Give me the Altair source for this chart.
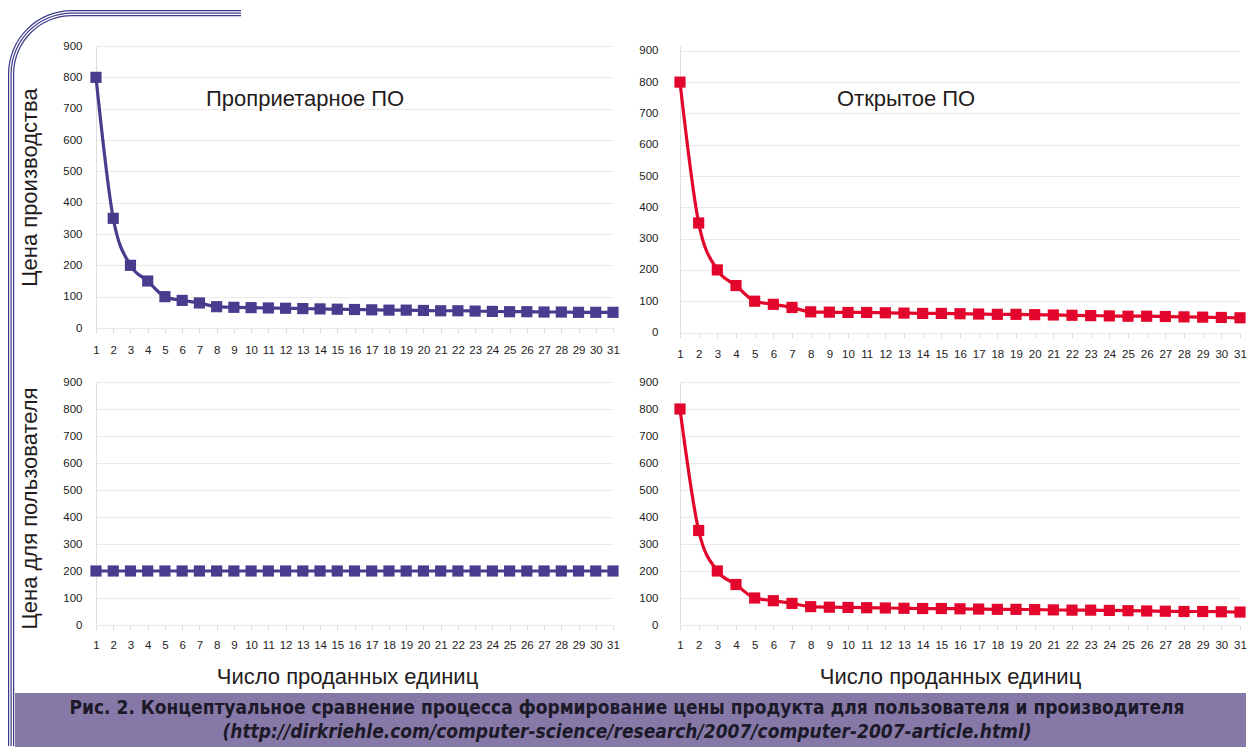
import altair as alt
import pandas as pd

# ---------------- data ----------------
units = list(range(1, 32))
prod_proprietary = [800, 350, 200, 150, 100, 88, 80, 68, 66, 65, 64, 63, 62, 61, 60, 59,
                    58, 57, 57, 56, 55, 55, 54, 53, 52, 52, 51, 51, 50, 50, 50]
prod_open = [800, 350, 200, 150, 100, 90, 80, 66, 65, 64, 64, 63, 62, 61, 61, 60,
             59, 58, 58, 57, 56, 55, 54, 53, 52, 52, 51, 50, 49, 48, 47]
user_proprietary = [200, 200, 200, 200, 200, 200, 200, 200, 200, 200, 200, 200, 200, 200, 200, 200,
                    200, 200, 200, 200, 200, 200, 200, 200, 200, 200, 200, 200, 200, 200, 200]
user_open = [800, 350, 200, 150, 100, 90, 80, 68, 66, 65, 64, 63, 62, 61, 61, 60,
             59, 58, 58, 57, 56, 55, 55, 54, 53, 52, 51, 50, 50, 49, 48]
y_ticks = [0, 100, 200, 300, 400, 500, 600, 700, 800, 900]

title_prop = "Проприетарное ПО"
title_open = "Открытое ПО"
ytitle_top = "Цена производства"
ytitle_bottom = "Цена для пользователя"
xtitle = "Число проданных единиц"
caption1 = "Рис. 2. Концептуальное сравнение процесса формирование цены продукта для пользователя и производителя"
caption2 = "(http://dirkriehle.com/computer-science/research/2007/computer-2007-article.html)"

NAVY = "#4b3b8f"
RED = "#e3062c"
FRAME = "#3b3a8c"
CAPBG = "#8679a7"
TEXT = "#241c1c"
FONT = "Liberation Sans"
CAPFONT = "Liberation Sans Narrow, DejaVu Sans Condensed, Roboto, sans-serif"

one = pd.DataFrame({"k": [0]})


def panel(values, color, ymax, ylab_pad, xlab_pad,
          ytitle=None, ytitle_y=None, xt=None, xtitle_x=None, xtitle_y=None):
    df = pd.DataFrame({"n": units, "v": values})
    xaxis_kw = dict(values=units, labelOverlap=False, labelFlush=False, grid=False,
                    ticks=True, tickColor="#e4dcdc", tickSize=5, domain=False,
                    labelFontSize=11.5, labelPadding=xlab_pad, labelColor=TEXT, labelFont=FONT)
    if xt:
        xaxis_kw.update(title=xt, titleFontSize=22, titleFont=FONT, titleFontWeight="normal",
                        titleColor=TEXT, titleX=xtitle_x, titleY=xtitle_y,
                        titleBaseline="middle", titleAlign="center")
    else:
        xaxis_kw.update(title=None)
    yaxis_kw = dict(values=y_ticks, grid=True, gridColor="#efe8e8", ticks=False,
                    domain=True, domainColor="#e4dcdc", labelFontSize=11.5,
                    labelPadding=ylab_pad, labelColor=TEXT, labelFont=FONT)
    if ytitle:
        yaxis_kw.update(title=ytitle, titleFontSize=22, titleFont=FONT, titleFontWeight="normal",
                        titleColor=TEXT, titleX=-55, titleY=ytitle_y, titleAngle=270,
                        titleBaseline="bottom", titleAlign="center")
    else:
        yaxis_kw.update(title=None)
    base = alt.Chart(df).encode(
        x=alt.X("n:Q", scale=alt.Scale(domain=[1, 31], nice=False, zero=False),
                axis=alt.Axis(**xaxis_kw)),
        y=alt.Y("v:Q", scale=alt.Scale(domain=[0, ymax], nice=False),
                axis=alt.Axis(**yaxis_kw)),
    )
    line = base.mark_line(color=color, strokeWidth=3.2, interpolate="monotone")
    pts = base.mark_square(color=color, size=125, opacity=1)
    return line, pts


def text_mark(t, px, py, size, align="left", weight="normal", style="normal", font=FONT, color=TEXT):
    return alt.Chart(pd.DataFrame({"t": [t]})).mark_text(
        align=align, baseline="middle", fontSize=size, font=font, fontWeight=weight,
        fontStyle=style, color=color
    ).encode(text="t:N", x=alt.value(px), y=alt.value(py))


# ---------------- frame (relative to top-left plot origin) ----------------
cx, cy = -24, 28
frame_layers = []
for r in [64, 61.5, 59]:
    frame_layers.append(
        alt.Chart(one).mark_arc(theta=4.712389, theta2=6.283185, innerRadius=r - 1.2,
                                outerRadius=r, color=FRAME)
        .encode(x=alt.value(cx), y=alt.value(cy))
    )
    frame_layers.append(
        alt.Chart(one).mark_rule(color=FRAME, strokeWidth=1.2)
        .encode(x=alt.value(cx), x2=alt.value(145), y=alt.value(cy - r + 0.6))
    )
    frame_layers.append(
        alt.Chart(one).mark_rule(color=FRAME, strokeWidth=1.2)
        .encode(x=alt.value(cx - r + 0.6), y=alt.value(cy), y2=alt.value(700))
    )

# ---------------- panels ----------------
TLW, TLH = 517, 282
TRW, TRH = 560, 286.5
BH = 243

l1, p1 = panel(prod_proprietary, NAVY, 900, 14, 11, ytitle=ytitle_top, ytitle_y=TLH / 2)
tl = alt.layer(*frame_layers, l1, p1,
               text_mark(title_prop, 110, 53, 22)).properties(width=TLW, height=TLH)

l2, p2 = panel(prod_open, RED, 900 * TRH / 281.7, 22, 11)
tr = alt.layer(l2, p2, text_mark(title_open, 157, 53, 22)).properties(width=TRW, height=TRH)

l3, p3 = panel(user_proprietary, NAVY, 900, 14, 9,
               ytitle=ytitle_bottom, ytitle_y=126, xt=xtitle, xtitle_x=251, xtitle_y=51)
caption_layers = [
    alt.Chart(one).mark_rect(color=CAPBG).encode(
        x=alt.value(-81), x2=alt.value(1150), y=alt.value(311), y2=alt.value(365)),
    text_mark(caption1, 531, 326, 19, align="center", weight="bold", font=CAPFONT, color="#1c1a28"),
    text_mark(caption2, 531, 350, 19, align="center", weight="bold", style="italic",
              font=CAPFONT, color="#1c1a28"),
]
bl = alt.layer(l3, p3, *caption_layers).properties(width=TLW, height=BH)

l4, p4 = panel(user_open, RED, 900, 22, 9, xt=xtitle, xtitle_x=270, xtitle_y=51)
br = alt.layer(l4, p4).properties(width=TRW, height=BH)

chart = alt.concat(
    tl, tr, bl, br, columns=2,
    spacing=alt.RowColnumber(row=49, column=67),
    bounds="flush",
).properties(
    padding={"left": 0, "top": 2, "right": 0, "bottom": 0},
    background="white",
).configure_view(stroke=None).configure_axis(labelFont=FONT, titleFont=FONT)

chart.save("out.html", embed_options={"renderer": "svg", "actions": False})
